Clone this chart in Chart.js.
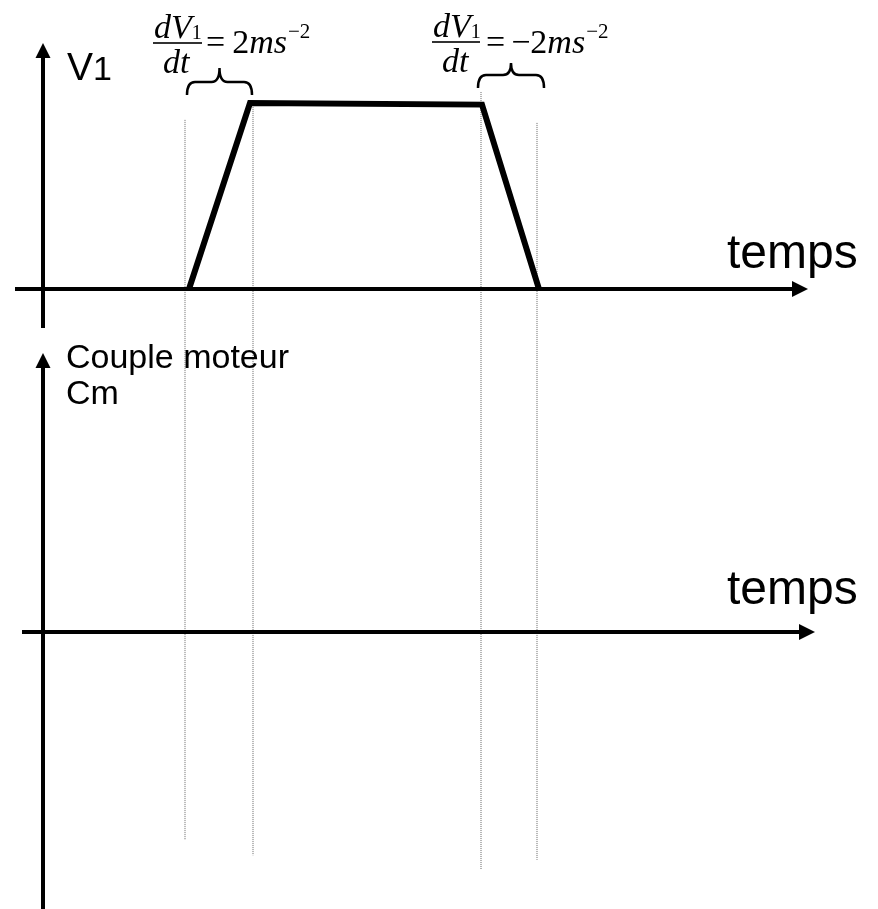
<!DOCTYPE html>
<html>
<head>
<meta charset="utf-8">
<script src="https://cdn.jsdelivr.net/npm/chart.js@4"></script>
<style>
  html, body { margin: 0; padding: 0; background: #fff; }
  #wrap { width: 878px; height: 909px; }
</style>
</head>
<body>
<div id="wrap"><canvas id="chart" width="878" height="909"></canvas></div>
<script>
// vitesse V1 (m/s) en fonction du temps (s)
const tempsV = [2.92, 4.14, 8.78, 9.92]
const vitesse = [0, 2.44, 2.42, 0]
// couple moteur Cm : laissé vide sur la figure
const tempsC = []
const couple = []
// repères verticaux en pointillés (temps, haut, bas en unités de V)
const repereT = [2.84, 4.2, 8.76, 9.88]
const repereHaut = [2.22, 2.44, 2.585, 2.18]
const repereBas = [-7.23, -7.43, -7.61, -7.49]

const serif = "'Liberation Serif', 'Times New Roman', serif"
const sans = "'Liberation Sans', Arial, sans-serif"

const repereDatasets = repereT.map((t, i) => ({
    data: [{ x: t, y: repereHaut[i] }, { x: t, y: repereBas[i] }],
    yAxisID: "yV",
    borderColor: "#666",
    borderWidth: 1,
    borderDash: [1, 1],
    pointRadius: 0,
}))

// écrit une suite de morceaux de texte de gauche à droite
const writeRun = (ctx, x, y, parts) => {
    parts.forEach((p) => {
        ctx.font = p.font
        x += p.gap || 0
        ctx.fillText(p.t, x, y + (p.dy || 0))
        x += ctx.measureText(p.t).width
    })
}

const brace = (ctx, x1, x2, yEnd, yMid, yTip) => {
    const xm = (x1 + x2) / 2
    const r = 8
    ctx.beginPath()
    ctx.moveTo(x1, yEnd)
    ctx.quadraticCurveTo(x1, yMid, x1 + r, yMid)
    ctx.lineTo(xm - r, yMid)
    ctx.quadraticCurveTo(xm, yMid, xm, yTip)
    ctx.quadraticCurveTo(xm, yMid, xm + r, yMid)
    ctx.lineTo(x2 - r, yMid)
    ctx.quadraticCurveTo(x2, yMid, x2, yEnd)
    ctx.stroke()
}

const fraction = (ctx, x, barY, barW) => {
    const it = "italic 34px " + serif
    writeRun(ctx, x + 1, barY - 5, [
        { t: "dV", font: it },
        { t: "1", font: "20px " + serif, dy: 1, gap: 0 },
    ])
    ctx.fillRect(x, barY - 0.8, barW, 1.6)
    writeRun(ctx, x + 10, barY + 30, [{ t: "dt", font: it }])
}

const schema = {
    id: "schema",
    afterDatasetsDraw(chart) {
        const { ctx, scales: { x, yV, yC } } = chart
        ctx.save()
        ctx.strokeStyle = "#000"
        ctx.fillStyle = "#000"
        ctx.lineWidth = 4

        const axis = (yScale, x0, x1, yLow, yHigh) => {
            const ox = x.getPixelForValue(0)
            const oy = yScale.getPixelForValue(0)
            const ax = x.getPixelForValue(x1)
            const ay = yScale.getPixelForValue(yHigh)
            ctx.beginPath()
            ctx.moveTo(x.getPixelForValue(x0), oy)
            ctx.lineTo(ax - 14, oy)
            ctx.moveTo(ox, yScale.getPixelForValue(yLow))
            ctx.lineTo(ox, ay + 14)
            ctx.stroke()
            ctx.beginPath()
            ctx.moveTo(ax, oy)
            ctx.lineTo(ax - 16, oy - 8)
            ctx.lineTo(ax - 16, oy + 8)
            ctx.closePath()
            ctx.fill()
            ctx.beginPath()
            ctx.moveTo(ox, ay)
            ctx.lineTo(ox - 7.5, ay + 15)
            ctx.lineTo(ox + 7.5, ay + 15)
            ctx.closePath()
            ctx.fill()
        }
        axis(yV, -0.56, 15.3, -0.51, 3.23)
        axis(yC, -0.42, 15.44, -3.7, 3.66)

        // accolades
        ctx.lineWidth = 2.5
        brace(ctx, x.getPixelForValue(repereT[0]) + 2, x.getPixelForValue(repereT[1]) - 1, 95, 82, 68)
        brace(ctx, x.getPixelForValue(repereT[2]) - 3, x.getPixelForValue(repereT[3]) + 7, 88, 75, 63)

        // textes
        ctx.textBaseline = "alphabetic"
        writeRun(ctx, 67, 80, [
            { t: "V", font: "39px " + sans },
            { t: "1", font: "34px " + sans },
        ])
        ctx.font = "48px " + sans
        ctx.fillText("temps", 727, 268)
        ctx.fillText("temps", 727, 604)
        ctx.font = "34px " + sans
        ctx.fillText("Couple moteur", 66, 368)
        ctx.fillText("Cm", 66, 404)

        // formules
        const it = "italic 34px " + serif
        const up = "34px " + serif
        const sup = "21px " + serif
        fraction(ctx, 153, 43, 49)
        writeRun(ctx, 206, 53, [
            { t: "=", font: up },
            { t: "2", font: up, gap: 7 },
            { t: "ms", font: it },
            { t: "\u22122", font: sup, dy: -15, gap: 1 },
        ])
        fraction(ctx, 432, 42, 48)
        writeRun(ctx, 486, 53, [
            { t: "=", font: up },
            { t: "\u22122", font: up, gap: 6 },
            { t: "ms", font: it },
            { t: "\u22122", font: sup, dy: -15, gap: 1 },
        ])
        ctx.restore()
    },
}

new Chart(document.getElementById("chart"), {
    type: "line",
    data: {
        datasets: [
            {
                data: tempsV.map((t, i) => ({ x: t, y: vitesse[i] })),
                yAxisID: "yV",
                borderColor: "#000",
                borderWidth: 6,
                borderJoinStyle: "miter",
                pointRadius: 0,
                tension: 0,
            },
            {
                data: tempsC.map((t, i) => ({ x: t, y: couple[i] })),
                yAxisID: "yC",
                borderColor: "#000",
                borderWidth: 6,
                pointRadius: 0,
            },
            ...repereDatasets,
        ],
    },
    options: {
        responsive: false,
        devicePixelRatio: 1,
        animation: false,
        layout: { padding: 0 },
        plugins: { legend: { display: false }, tooltip: { enabled: false } },
        scales: {
            x: { type: "linear", min: -0.86, max: 16.7, display: false },
            yV: { type: "linear", min: -8.136, max: 3.793, display: false },
            yC: { type: "linear", min: -3.635, max: 8.294, display: false },
        },
    },
    plugins: [schema],
})
</script>
</body>
</html>
